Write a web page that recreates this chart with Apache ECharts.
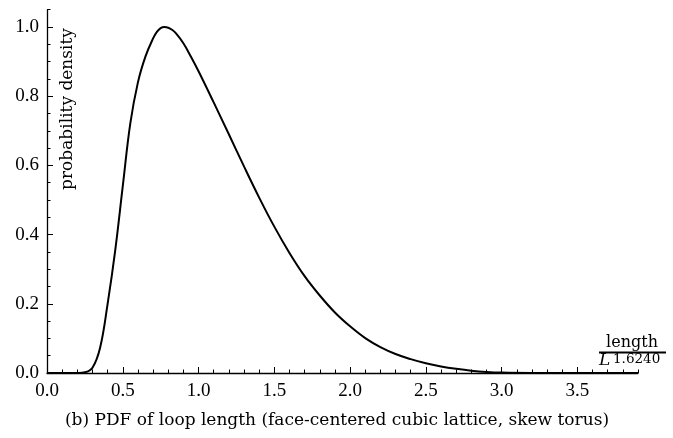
<!DOCTYPE html>
<html>
<head>
<meta charset="utf-8">
<script src="https://cdn.jsdelivr.net/npm/echarts@6/dist/echarts.min.js"></script>
<style>
html,body{margin:0;padding:0;background:#fff;}
#chart{width:673px;height:438px;}
</style>
</head>
<body>
<div id="chart"></div>
<script>
// ---- data ----
const xValues = [0, 0.1, 0.2, 0.25, 0.3, 0.35, 0.4, 0.45, 0.5, 0.55, 0.6, 0.65, 0.7, 0.725, 0.75, 0.775, 0.8, 0.825, 0.85, 0.9, 0.95,
  1.0, 1.1, 1.2, 1.3, 1.4, 1.5, 1.6, 1.7, 1.8, 1.9, 2.0, 2.1, 2.2, 2.3, 2.4, 2.5, 2.6, 2.7, 2.8, 2.9, 3.0, 3.2, 3.5, 3.9];
const pdfValues = [0, 0, 0.0003, 0.002, 0.015, 0.072, 0.20, 0.354, 0.54, 0.722, 0.84, 0.915, 0.967, 0.986, 0.997, 1.0, 0.998, 0.992, 0.982, 0.953, 0.914,
  0.872, 0.782, 0.69, 0.597, 0.507, 0.423, 0.347, 0.28, 0.224, 0.175, 0.135, 0.101, 0.075, 0.055, 0.040, 0.028, 0.019, 0.012, 0.0065, 0.003, 0.0012, 0.0002, 0, 0];
const xMajorTicks = [0, 0.5, 1.0, 1.5, 2.0, 2.5, 3.0, 3.5];
const xMinorTicks = [0.1,0.2,0.3,0.4,0.6,0.7,0.8,0.9,1.1,1.2,1.3,1.4,1.6,1.7,1.8,1.9,2.1,2.2,2.3,2.4,2.6,2.7,2.8,2.9,3.1,3.2,3.3,3.4,3.6,3.7,3.8,3.9];
const yMajorTicks = [0, 0.2, 0.4, 0.6, 0.8, 1.0];
const yMinorTicks = [0.05,0.1,0.15,0.25,0.3,0.35,0.45,0.5,0.55,0.65,0.7,0.75,0.85,0.9,0.95,1.05];
const yAxisTitle = 'probability density';
const xAxisNumerator = 'length';
const xAxisDenominatorBase = 'L';
const xAxisDenominatorExp = '1.6240';
const caption = '(b) PDF of loop length (face-centered cubic lattice, skew torus)';

const seriesData = xValues.map((x, i) => [x, pdfValues[i]]);

const tickFont = 'Liberation Serif';
const textFont = 'DejaVu Serif';

const chart = echarts.init(document.getElementById('chart'), null, {renderer: 'canvas'});
const axisLineStyle = {color: '#000', width: 1.3};
chart.setOption({
  animation: false,
  backgroundColor: '#fff',
  grid: {left: 47, right: 35, top: 9.7, bottom: 65},
  xAxis: [{
    type: 'value', min: 0, max: 3.9, position: 'bottom',
    axisLine: {show: true, lineStyle: axisLineStyle},
    axisTick: {show: true, inside: true, length: 6, customValues: xMajorTicks, lineStyle: {color: '#000', width: 1}},
    axisLabel: {show: true, customValues: xMajorTicks, margin: 9, color: '#000', fontFamily: tickFont, fontSize: 19,
      formatter: v => v.toFixed(1)},
    splitLine: {show: false}
  }, {
    type: 'value', min: 0, max: 3.9, position: 'bottom',
    axisLine: {show: false},
    axisTick: {show: true, inside: true, length: 3.5, customValues: xMinorTicks, lineStyle: {color: '#000', width: 1}},
    axisLabel: {show: false},
    splitLine: {show: false}
  }],
  yAxis: [{
    type: 'value', min: 0, max: 1.05, position: 'left',
    axisLine: {show: true, lineStyle: axisLineStyle},
    axisTick: {show: true, inside: true, length: 6, customValues: yMajorTicks, lineStyle: {color: '#000', width: 1}},
    axisLabel: {show: true, customValues: yMajorTicks, margin: 8, color: '#000', fontFamily: tickFont, fontSize: 19,
      padding: [6, 0, 0, 0], formatter: v => v.toFixed(1)},
    splitLine: {show: false}
  }, {
    type: 'value', min: 0, max: 1.05, position: 'left',
    axisLine: {show: false},
    axisTick: {show: true, inside: true, length: 3.5, customValues: yMinorTicks, lineStyle: {color: '#000', width: 1}},
    axisLabel: {show: false},
    splitLine: {show: false}
  }],
  series: [{
    type: 'line',
    xAxisIndex: 0, yAxisIndex: 0,
    data: seriesData,
    smooth: 0.4,
    showSymbol: false,
    symbol: 'none',
    lineStyle: {color: '#000', width: 2},
    z: 3
  }],
  graphic: [
    {type: 'text', x: 68, y: 109, rotation: Math.PI / 2,
      style: {text: yAxisTitle, font: '17px "' + textFont + '"', fill: '#000', align: 'center', verticalAlign: 'middle'}},
    {type: 'text', x: 632, y: 343,
      style: {text: xAxisNumerator, font: '16px "' + textFont + '"', fill: '#000', align: 'center', verticalAlign: 'middle'}},
    {type: 'line', shape: {x1: 599, y1: 352.5, x2: 666, y2: 352.5}, style: {stroke: '#000', lineWidth: 2}},
    {type: 'text', x: 599, y: 369,
      style: {text: xAxisDenominatorBase, font: 'italic 17px "' + textFont + '"', fill: '#000', align: 'left', verticalAlign: 'bottom'}},
    {type: 'text', x: 613, y: 359,
      style: {text: xAxisDenominatorExp, font: '13.5px "' + textFont + '"', fill: '#000', align: 'left', verticalAlign: 'middle'}},
    {type: 'text', x: 337, y: 421,
      style: {text: caption, font: '17px "' + textFont + '"', fill: '#000', align: 'center', verticalAlign: 'middle'}}
  ]
});
</script>
</body>
</html>
